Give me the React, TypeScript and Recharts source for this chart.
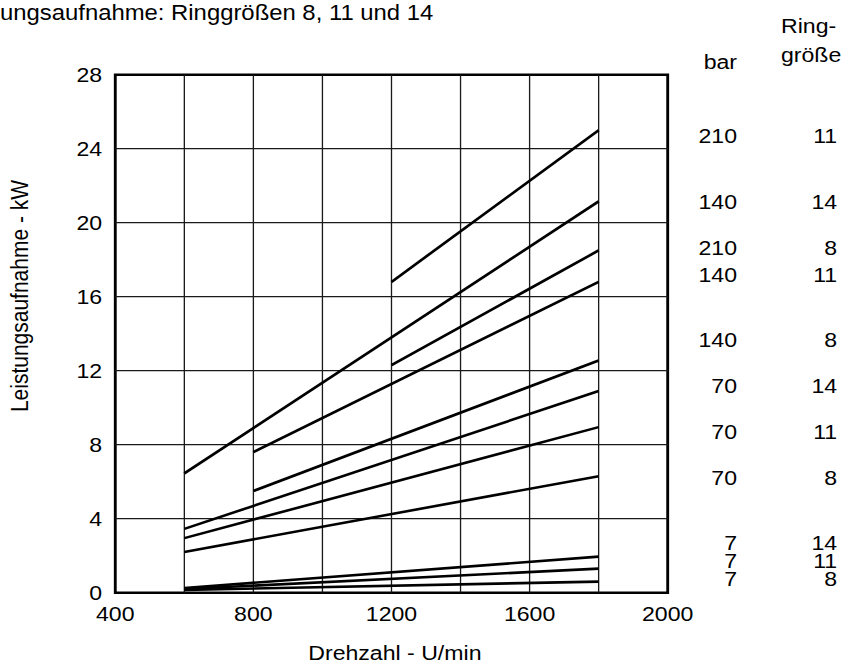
import { LineChart, Line, XAxis, YAxis, ReferenceLine, ReferenceArea } from 'recharts';

// Leistungsaufnahme (kW) over Drehzahl (U/min), one line per bar / Ringgröße
const s210_11 = [{ x: 1200, y: 16.8 }, { x: 1800, y: 25.0 }];
const s140_14 = [{ x: 600, y: 6.45 }, { x: 1800, y: 21.15 }];
const s210_8 = [{ x: 1200, y: 12.3 }, { x: 1800, y: 18.5 }];
const s140_11 = [{ x: 800, y: 7.6 }, { x: 1800, y: 16.8 }];
const s140_8 = [{ x: 800, y: 5.5 }, { x: 1800, y: 12.55 }];
const s70_14 = [{ x: 600, y: 3.45 }, { x: 1800, y: 10.9 }];
const s70_11 = [{ x: 600, y: 2.95 }, { x: 1800, y: 8.95 }];
const s70_8 = [{ x: 600, y: 2.2 }, { x: 1800, y: 6.3 }];
const s7_14 = [{ x: 600, y: 0.25 }, { x: 1800, y: 1.95 }];
const s7_11 = [{ x: 600, y: 0.2 }, { x: 1800, y: 1.3 }];
const s7_8 = [{ x: 600, y: 0.15 }, { x: 1800, y: 0.6 }];

const series = [s210_11, s140_14, s210_8, s140_11, s140_8, s70_14, s70_11, s70_8, s7_14, s7_11, s7_8];

const xTicks = [400, 800, 1200, 1600, 2000];
const yTicks = [0, 4, 8, 12, 16, 20, 24, 28];
const xGrid = [600, 800, 1000, 1200, 1400, 1600, 1800];
const yGrid = [4, 8, 12, 16, 20, 24];

// right-hand legend columns, top to bottom
const barLabels = ['210', '140', '210', '140', '140', '70', '70', '70', '7', '7', '7'];
const ringLabels = ['11', '14', '8', '11', '8', '14', '11', '8', '14', '11', '8'];

// text baselines of the legend rows (px)
const rowBaseline = [143.5, 209.5, 255.5, 282.5, 347.5, 393.5, 439.5, 485.5, 550.5, 568.5, 586.5];

const FONT = '"Liberation Sans", Arial, Helvetica, sans-serif';
const FS = 21;
// the reference is slightly stretched horizontally
const STRETCH = 1.1;
const W = 774;
const H = 667;

export default function App() {
  const tick = { fill: '#000', fontSize: FS, fontFamily: FONT };
  return (
    <div style={{ position: 'absolute', left: 0, top: 0, width: 851, height: 667, overflow: 'hidden', background: '#fff' }}>
      <div style={{ position: 'relative', width: W, height: H, transform: `scaleX(${STRETCH})`, transformOrigin: '0 0' }}>
        <LineChart width={W} height={H} margin={{ top: 74.7, right: 167, bottom: 44.3, left: 54.8 }}>
          <XAxis
            type="number"
            dataKey="x"
            domain={[400, 2000]}
            ticks={xTicks}
            allowDataOverflow
            axisLine={false}
            tickLine={false}
            tickSize={0}
            tickMargin={13.3}
            height={30}
            tick={tick}
            interval={0}
          />
          <YAxis
            type="number"
            dataKey="y"
            domain={[0, 28]}
            ticks={yTicks}
            allowDataOverflow
            axisLine={false}
            tickLine={false}
            tickSize={0}
            tickMargin={12}
            width={50}
            tick={tick}
            interval={0}
          />
          {xGrid.map((v) => (
            <ReferenceLine key={'gx' + v} x={v} stroke="#1a1a1a" strokeWidth={1.2} />
          ))}
          {yGrid.map((v) => (
            <ReferenceLine key={'gy' + v} y={v} stroke="#1a1a1a" strokeWidth={1.3} />
          ))}
          <ReferenceArea x1={400} x2={2000} y1={0} y2={28} fill="none" stroke="#000" strokeWidth={2.6} ifOverflow="visible" />
          {series.map((d, i) => (
            <Line
              key={i}
              data={d}
              dataKey="y"
              type="linear"
              stroke="#000"
              strokeWidth={2.6}
              dot={false}
              activeDot={false}
              isAnimationActive={false}
            />
          ))}
        </LineChart>
        <svg width={W} height={H} style={{ position: 'absolute', left: 0, top: 0, pointerEvents: 'none' }} fontFamily={FONT} fontSize={FS} fill="#000">
          <text x={0} y={20} fontSize={21.7}>ungsaufnahme: Ringgrößen 8, 11 und 14</text>
          <text x={25.7} y={296} textAnchor="middle" transform="rotate(-90 25.7 296)">Leistungsaufnahme - kW</text>
          <text x={359} y={660} textAnchor="middle">Drehzahl - U/min</text>
          <text x={670} y={69} textAnchor="end">bar</text>
          <text x={710} y={33}>Ring-</text>
          <text x={710} y={62}>größe</text>
          {barLabels.map((t, i) => (
            <text key={'b' + i} x={670} y={rowBaseline[i]} textAnchor="end">{t}</text>
          ))}
          {ringLabels.map((t, i) => (
            <text key={'r' + i} x={761} y={rowBaseline[i]} textAnchor="end">{t}</text>
          ))}
        </svg>
      </div>
    </div>
  );
}
